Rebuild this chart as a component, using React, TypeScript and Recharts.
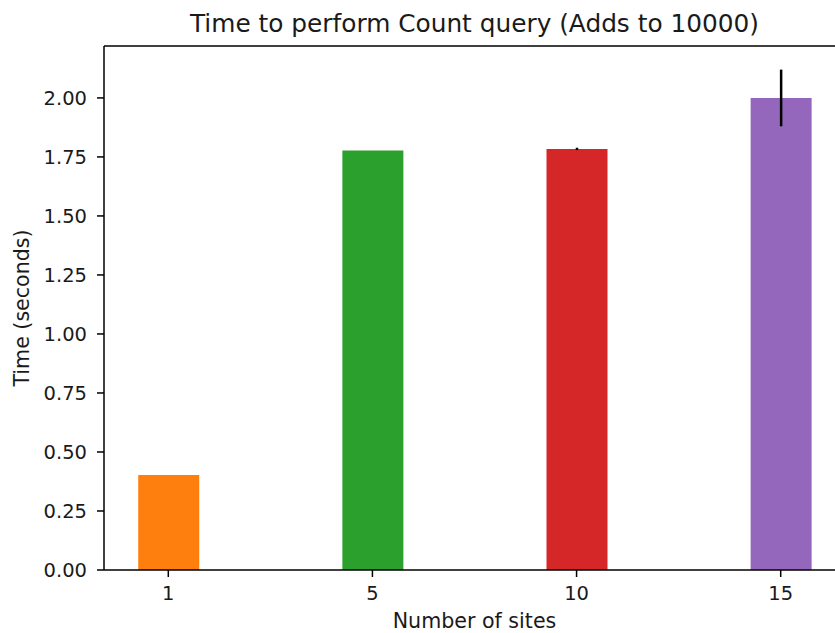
import React from "react";
import { BarChart, Bar, XAxis, YAxis, ErrorBar, Cell, ReferenceLine } from "recharts";

const siteLabels = ["1", "5", "10", "15"];
const timeValues = [0.402, 1.777, 1.784, 2.0];
const timeErrors = [0, 0, 0.005, 0.12];
const yTicks = [0, 0.25, 0.5, 0.75, 1.0, 1.25, 1.5, 1.75, 2.0];
const yMax = 2.22;
const barColors = ["#ff7f0e", "#2ca02c", "#d62728", "#9467bd"];

const data = siteLabels.map((s, i) => ({
  idx: i,
  site: s,
  time: timeValues[i],
  err: timeErrors[i],
}));

const FONT = "'DejaVu Sans', sans-serif";
const TEXT = "#1a1a1a";

export default function App() {
  return (
    <div
      style={{
        position: "fixed",
        left: 0,
        top: 0,
        width: 835,
        height: 633,
        overflow: "hidden",
        background: "#fff",
        fontFamily: FONT,
      }}
    >
      <div
        style={{
          position: "absolute",
          left: 104,
          width: 741,
          top: 9,
          textAlign: "center",
          fontSize: 24.8,
          color: TEXT,
          fontFamily: FONT,
          lineHeight: "30px",
          whiteSpace: "nowrap",
        }}
      >
        Time to perform Count query (Adds to 10000)
      </div>
      <BarChart
        width={850}
        height={633}
        data={data}
        margin={{ top: 46, right: 5, bottom: 0, left: 0 }}
      >
        <XAxis
          type="number"
          dataKey="idx"
          domain={[-0.315, 3.315]}
          ticks={[0, 1, 2, 3]}
          tickFormatter={(v: number) => siteLabels[v] ?? ""}
          interval={0}
          height={63}
          tickSize={7}
          tickMargin={9}
          axisLine={{ stroke: "#000", strokeWidth: 1.5 }}
          tickLine={{ stroke: "#000", strokeWidth: 1.5 }}
          tick={{ fill: TEXT, fontSize: 19.5, fontFamily: FONT }}
          label={(props: any) => {
            const vb = props.viewBox || { x: 104, y: 570, width: 741, height: 63 };
            return (
              <text
                x={vb.x + vb.width / 2}
                y={vb.y + 58}
                textAnchor="middle"
                fill={TEXT}
                fontSize={20.6}
                fontFamily={FONT}
              >
                Number of sites
              </text>
            );
          }}
        />
        <YAxis
          type="number"
          domain={[0, yMax]}
          ticks={yTicks}
          tickFormatter={(v: number) => v.toFixed(2)}
          interval={0}
          width={104}
          tickSize={7}
          tickMargin={10}
          axisLine={{ stroke: "#000", strokeWidth: 1.5 }}
          tickLine={{ stroke: "#000", strokeWidth: 1.5 }}
          tick={{ fill: TEXT, fontSize: 19.5, fontFamily: FONT }}
          label={(props: any) => {
            const vb = props.viewBox || { x: 0, y: 46, width: 104, height: 524 };
            const cx = vb.x + 29;
            const cy = vb.y + vb.height / 2;
            return (
              <text
                x={cx}
                y={cy}
                transform={`rotate(-90, ${cx}, ${cy})`}
                textAnchor="middle"
                fill={TEXT}
                fontSize={20.6}
                fontFamily={FONT}
              >
                Time (seconds)
              </text>
            );
          }}
        />
        <ReferenceLine y={yMax} stroke="#000" strokeWidth={1.5} ifOverflow="extendDomain" />
        <Bar dataKey="time" barSize={61} isAnimationActive={false}>
          {data.map((d, i) => (
            <Cell key={d.site} fill={barColors[i]} />
          ))}
          <ErrorBar
            dataKey="err"
            direction="y"
            width={0}
            stroke="#000"
            strokeWidth={2.5}
            isAnimationActive={false}
          />
        </Bar>
      </BarChart>
    </div>
  );
}
